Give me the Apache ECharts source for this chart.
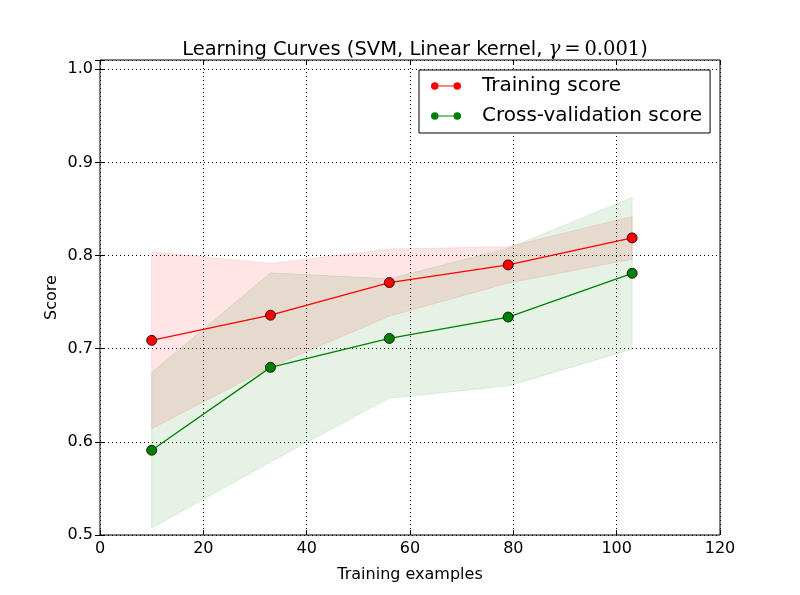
<!DOCTYPE html>
<html>
<head>
<meta charset="utf-8">
<script src="https://cdn.jsdelivr.net/npm/echarts@6/dist/echarts.min.js"></script>
<style>html,body{margin:0;padding:0;background:#fff}#c{width:800px;height:595px}</style>
</head>
<body>
<div id="c"></div>
<script>
const trainSizes = [10, 33, 56, 79, 103];
const trainMean = [0.709, 0.736, 0.771, 0.790, 0.819];
const trainStd = [0.095, 0.0555, 0.036, 0.0195, 0.023];
const cvMean = [0.591, 0.680, 0.711, 0.734, 0.781];
const cvStd = [0.0835, 0.1015, 0.064, 0.074, 0.0815];
const xTicks = [0, 20, 40, 60, 80, 100, 120];
const yTicks = [0.5, 0.6, 0.7, 0.8, 0.9, 1.0];

const FONT = 'DejaVu Sans';
const chart = echarts.init(document.getElementById('c'), null, {renderer: 'canvas'});

function bandSeries(mean, std, rgb) {
  return {
    type: 'custom',
    silent: true,
    data: [[trainSizes[0], mean[0]]],
    renderItem: function (params, api) {
      const up = trainSizes.map((x, i) => api.coord([x, mean[i] + std[i]]));
      const lo = trainSizes.map((x, i) => api.coord([x, mean[i] - std[i]])).reverse();
      return {
        type: 'polygon',
        shape: {points: up.concat(lo)},
        style: {fill: 'rgba(' + rgb + ',0.1)', stroke: 'rgba(' + rgb + ',0.1)', lineWidth: 1}
      };
    }
  };
}

function lineSeries(name, mean, color) {
  return {
    name: name,
    type: 'line',
    data: trainSizes.map((x, i) => [x, mean[i]]),
    symbol: 'circle',
    symbolSize: 10,
    showSymbol: true,
    lineStyle: {color: color, width: 1.3},
    itemStyle: {color: color, borderColor: '#000', borderWidth: 0.8},
    emphasis: {disabled: true},
    animation: false
  };
}

const isTick = (arr, v) => arr.some(t => Math.abs(t - v) < 1e-9);
const legendIcon = 'path://M0,5a5,5 0 1,0 10,0a5,5 0 1,0 -10,0Z M10,4.4L30,4.4L30,5.6L10,5.6Z M30,5a5,5 0 1,0 10,0a5,5 0 1,0 -10,0Z';

chart.setOption({
  animation: false,
  backgroundColor: '#fff',
  title: {
    left: 410, top: 35, textAlign: 'center',
    text: '{a|Learning Curves (SVM, Linear kernel, }{g|γ}{b|\u2009=\u20090.001}{a|)}',
    textStyle: {
      fontWeight: 'normal',
      rich: {
        a: {fontFamily: FONT, fontSize: 19.5, fontWeight: 'normal', color: '#000'},
        g: {fontFamily: 'DejaVu Serif', fontStyle: 'italic', fontWeight: 'normal', fontSize: 19.5, color: '#000'},
        b: {fontFamily: 'DejaVu Serif', fontWeight: 'normal', fontSize: 19.5, color: '#000'}
      }
    }
  },
  grid: {left: 100, right: 80, top: 60, bottom: 60, show: true, borderColor: '#000', borderWidth: 1, backgroundColor: 'transparent'},
  legend: {
    left: 419, top: 70, width: 291, orient: 'vertical',
    data: ['Training score', 'Cross-validation score'],
    icon: legendIcon, itemWidth: 30, itemHeight: 8, itemGap: 10,
    itemStyle: {borderWidth: 0},
    padding: [6, 8, 7, 12],
    backgroundColor: '#fff', borderColor: '#000', borderWidth: 1, borderRadius: 0,
    textStyle: {fontFamily: FONT, fontSize: 20, color: '#000', padding: [0, 0, 0, 16]},
    selectedMode: false
  },
  xAxis: [{
    type: 'value', min: 0, max: 120, interval: 20,
    name: 'Training examples', nameLocation: 'middle', nameGap: 32, nameMoveOverlap: false,
    nameTextStyle: {fontFamily: FONT, fontSize: 16, color: '#000'},
    axisLine: {show: false},
    axisTick: {show: true, inside: true, length: 5, lineStyle: {color: '#000'}},
    axisLabel: {fontFamily: FONT, fontSize: 16, color: '#000', margin: 6,
      formatter: v => isTick(xTicks, v) ? String(v) : ''},
    splitLine: {show: true, lineStyle: {color: '#000', type: [1, 3], width: 1}}
  }, {
    type: 'value', min: 0, max: 120, interval: 20, position: 'top',
    axisLine: {show: false}, axisLabel: {show: false}, splitLine: {show: false},
    axisTick: {show: true, inside: true, length: 5, lineStyle: {color: '#000'}}
  }],
  yAxis: [{
    type: 'value', min: 0.5, max: 1.01, interval: 0.1,
    name: 'Score', nameLocation: 'middle', nameGap: 40, nameMoveOverlap: false,
    nameTextStyle: {fontFamily: FONT, fontSize: 16, color: '#000'},
    axisLine: {show: false},
    axisTick: {show: true, inside: true, length: 5, lineStyle: {color: '#000'}},
    axisLabel: {fontFamily: FONT, fontSize: 16, color: '#000', margin: 7,
      formatter: v => isTick(yTicks, v) ? v.toFixed(1) : ''},
    splitLine: {show: true, lineStyle: {color: '#000', type: [1, 3], width: 1}}
  }, {
    type: 'value', min: 0.5, max: 1.01, interval: 0.1, position: 'right',
    axisLine: {show: false}, axisLabel: {show: false}, splitLine: {show: false},
    axisTick: {show: true, inside: true, length: 5, lineStyle: {color: '#000'}}
  }],
  series: [
    bandSeries(trainMean, trainStd, '255,0,0'),
    bandSeries(cvMean, cvStd, '0,128,0'),
    lineSeries('Training score', trainMean, '#ff0000'),
    lineSeries('Cross-validation score', cvMean, '#008000')
  ]
});
</script>
</body>
</html>
